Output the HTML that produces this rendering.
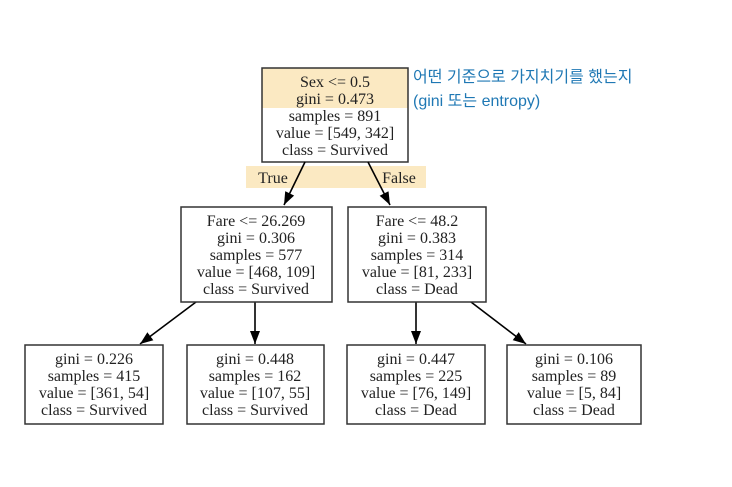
<!DOCTYPE html>
<html><head><meta charset="utf-8"><style>
body{margin:0;background:#fff;width:732px;height:487px;overflow:hidden}
svg{display:block}
text{font-family:"Liberation Serif",serif;font-size:16px;fill:#222;text-anchor:middle}
.k{font-family:"Liberation Sans","Noto Sans CJK KR",sans-serif;font-size:16px;fill:#1f78b4;text-anchor:start}
</style></head><body>
<svg width="732" height="487" viewBox="0 0 732 487">
<defs><marker id="a" markerWidth="14" markerHeight="14" refX="13" refY="6" orient="auto" markerUnits="userSpaceOnUse"><path d="M0,1 L13,6 L0,11 z" fill="#000"/></marker></defs>
<rect x="246" y="166" width="180" height="22" fill="#fbe9c2"/>
<rect x="262" y="68" width="146" height="40" fill="#fbe9c2"/>
<rect x="262" y="68" width="146" height="94" fill="none" stroke="#333" stroke-width="1.5"/>
<text x="335" y="87">Sex &lt;= 0.5</text><text x="335" y="104">gini = 0.473</text><text x="335" y="121">samples = 891</text><text x="335" y="138">value = [549, 342]</text><text x="335" y="155">class = Survived</text>
<text x="273" y="183">True</text><text x="399" y="183">False</text>
<g stroke="#000" stroke-width="1.6" marker-end="url(#a)">
<line x1="305" y1="162" x2="284" y2="205"/><line x1="368" y1="162" x2="390" y2="205"/>
<line x1="196" y1="302" x2="140" y2="344"/><line x1="255" y1="302" x2="255" y2="344"/>
<line x1="416" y1="302" x2="416" y2="344"/><line x1="471" y1="302" x2="526" y2="344"/>
</g>
<g fill="#fff" stroke="#333" stroke-width="1.5">
<rect x="181" y="207" width="151" height="95"/><rect x="348" y="207" width="138" height="95"/>
<rect x="25" y="345" width="138" height="79"/><rect x="187" y="345" width="137" height="79"/><rect x="347" y="345" width="138" height="79"/><rect x="507" y="345" width="134" height="79"/>
</g>
<text x="256" y="226">Fare &lt;= 26.269</text><text x="256" y="243">gini = 0.306</text><text x="256" y="260">samples = 577</text><text x="256" y="277">value = [468, 109]</text><text x="256" y="294">class = Survived</text>
<text x="417" y="226">Fare &lt;= 48.2</text><text x="417" y="243">gini = 0.383</text><text x="417" y="260">samples = 314</text><text x="417" y="277">value = [81, 233]</text><text x="417" y="294">class = Dead</text>
<text x="94" y="364">gini = 0.226</text><text x="94" y="381">samples = 415</text><text x="94" y="398">value = [361, 54]</text><text x="94" y="415">class = Survived</text>
<text x="255" y="364">gini = 0.448</text><text x="255" y="381">samples = 162</text><text x="255" y="398">value = [107, 55]</text><text x="255" y="415">class = Survived</text>
<text x="416" y="364">gini = 0.447</text><text x="416" y="381">samples = 225</text><text x="416" y="398">value = [76, 149]</text><text x="416" y="415">class = Dead</text>
<text x="574" y="364">gini = 0.106</text><text x="574" y="381">samples = 89</text><text x="574" y="398">value = [5, 84]</text><text x="574" y="415">class = Dead</text>
<text class="k" x="413" y="82">어떤 기준으로 가지치기를 했는지</text>
<text class="k" x="413" y="106">(gini 또는 entropy)</text>
</svg>
</body></html>
